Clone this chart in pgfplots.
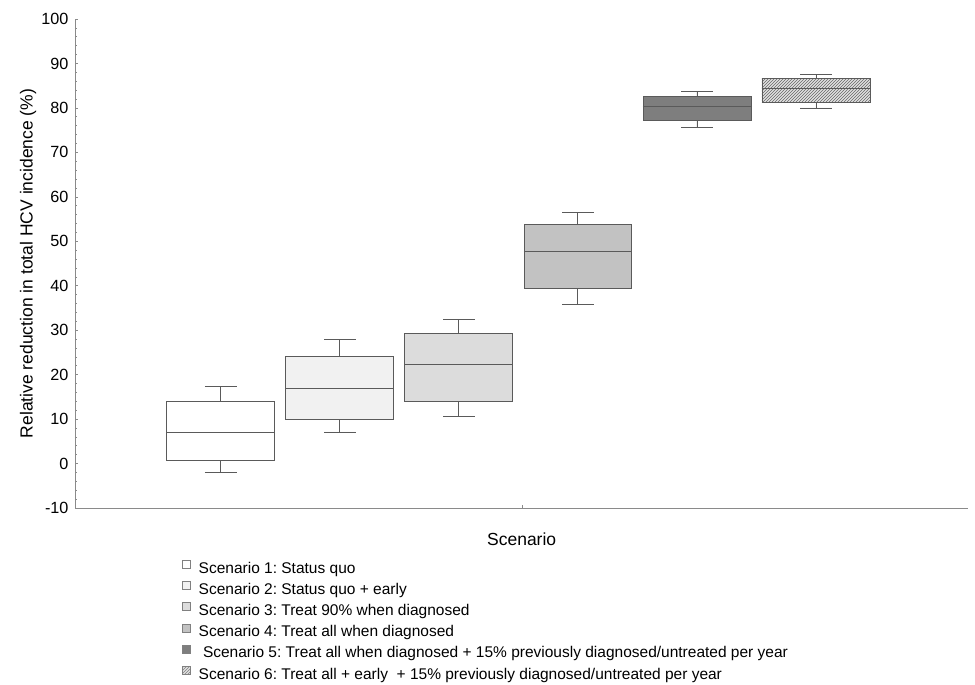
\documentclass[border=0pt]{standalone}
\usepackage{pgfplots}
\pgfplotsset{compat=1.18}
\usepgfplotslibrary{statistics}
\usetikzlibrary{patterns}
\usepackage{fontspec}
\setmainfont{Liberation Sans}
\frenchspacing
\definecolor{edge}{HTML}{5A5A5A}
\definecolor{axc}{HTML}{8A8A8A}
\definecolor{f1}{HTML}{FFFFFF}
\definecolor{f2}{HTML}{F1F1F1}
\definecolor{f3}{HTML}{DCDCDC}
\definecolor{f4}{HTML}{C2C2C2}
\definecolor{f5}{HTML}{7E7E7E}
\definecolor{f6}{HTML}{E2E2E2}
\begin{document}
\begin{tikzpicture}
\useasboundingbox (0,0) rectangle (975pt,685pt);
\begin{axis}[
  at={(75pt,177pt)}, anchor=south west,
  scale only axis, width=893.3pt, height=489pt,
  xmin=-0.225, xmax=7.28, ymin=-10, ymax=100,
  axis x line*=bottom, axis y line*=left,
  axis line style={axc, line width=0.9pt},
  ytick distance=10, minor y tick num=4,
  xtick={3.53}, xticklabels={},
  tick align=inside,
  major tick length=3pt, minor tick length=2pt,
  tick style={axc, line width=0.6pt},
  /pgf/number format/assume math mode=true,
  tick label style={font=\fontsize{16.2}{19}\selectfont},
  yticklabel style={xshift=-3pt},
  ylabel={Relative reduction in total HCV incidence (\%)},
  ylabel style={font=\fontsize{17.5}{20}\selectfont, at={(axis description cs:-0.0525,0.5)}, anchor=center, rotate=0},
  xlabel={Scenario},
  xlabel style={font=\fontsize{17.5}{20}\selectfont, at={(axis description cs:0.5,-0.064)}, anchor=center},
  boxplot/draw direction=y,
  boxplot/box extend=0.907,
  boxplot/whisker extend=0.266,
  legend cell align=left,
  legend style={at={(axis description cs:0.1198,-0.1065)}, anchor=north west, draw=none, fill=none,
    font=\fontsize{15.5}{18}\selectfont, inner xsep=0pt, inner ysep=0pt, row sep=3.8pt,
    nodes={inner xsep=4pt, inner ysep=0pt, text height=11pt, text depth=4pt}},
  legend image code/.code={\draw[#1, line width=0.6pt] (0pt,1.5pt) rectangle (8pt,9.5pt); \path (12pt,5pt);},
]
\addlegendimage{draw=gray, fill=f1}
\addlegendentry{Scenario 1: Status quo}
\addlegendimage{draw=gray, fill=f2}
\addlegendentry{Scenario 2: Status quo + early}
\addlegendimage{draw=gray, fill=f3}
\addlegendentry{Scenario 3: Treat 90\% when diagnosed}
\addlegendimage{draw=gray, fill=f4}
\addlegendentry{Scenario 4: Treat all when diagnosed}
\addlegendimage{draw=gray, fill=f5}
\addlegendentry{\ Scenario 5: Treat all when diagnosed + 15\% previously diagnosed/untreated per year}
\addlegendimage{draw=gray, fill=f6, postaction={pattern=north east lines, pattern color=gray}}
\addlegendentry{Scenario 6: Treat all + early\ \ + 15\% previously diagnosed/untreated per year}

\addplot[forget plot, draw=edge, line width=0.8pt, fill=f1, boxplot prepared={draw position=1,
  lower whisker=-2.1, lower quartile=0.8, median=7.0, upper quartile=14.0, upper whisker=17.4}]
  coordinates {};
\addplot[forget plot, draw=edge, line width=0.8pt, fill=f2, boxplot prepared={draw position=2,
  lower whisker=7.1, lower quartile=10.0, median=16.8, upper quartile=24.2, upper whisker=28.0}]
  coordinates {};
\addplot[forget plot, draw=edge, line width=0.8pt, fill=f3, boxplot prepared={draw position=3,
  lower whisker=10.6, lower quartile=14.0, median=22.3, upper quartile=29.3, upper whisker=32.4}]
  coordinates {};
\addplot[forget plot, draw=edge, line width=0.8pt, fill=f4, boxplot prepared={draw position=4,
  lower whisker=35.8, lower quartile=39.3, median=47.7, upper quartile=53.9, upper whisker=56.4}]
  coordinates {};
\addplot[forget plot, draw=edge, line width=0.8pt, fill=f5, boxplot prepared={draw position=5,
  lower whisker=75.7, lower quartile=77.1, median=80.4, upper quartile=82.7, upper whisker=83.7}]
  coordinates {};
\addplot[forget plot, draw=edge, line width=0.8pt, fill=f6,
  boxplot/every box/.style={postaction={pattern=north east lines, pattern color=gray!80!black}},
  boxplot prepared={draw position=6,
  lower whisker=80.0, lower quartile=81.3, median=84.3, upper quartile=86.6, upper whisker=87.5}]
  coordinates {};
\end{axis}
\end{tikzpicture}
\end{document}
